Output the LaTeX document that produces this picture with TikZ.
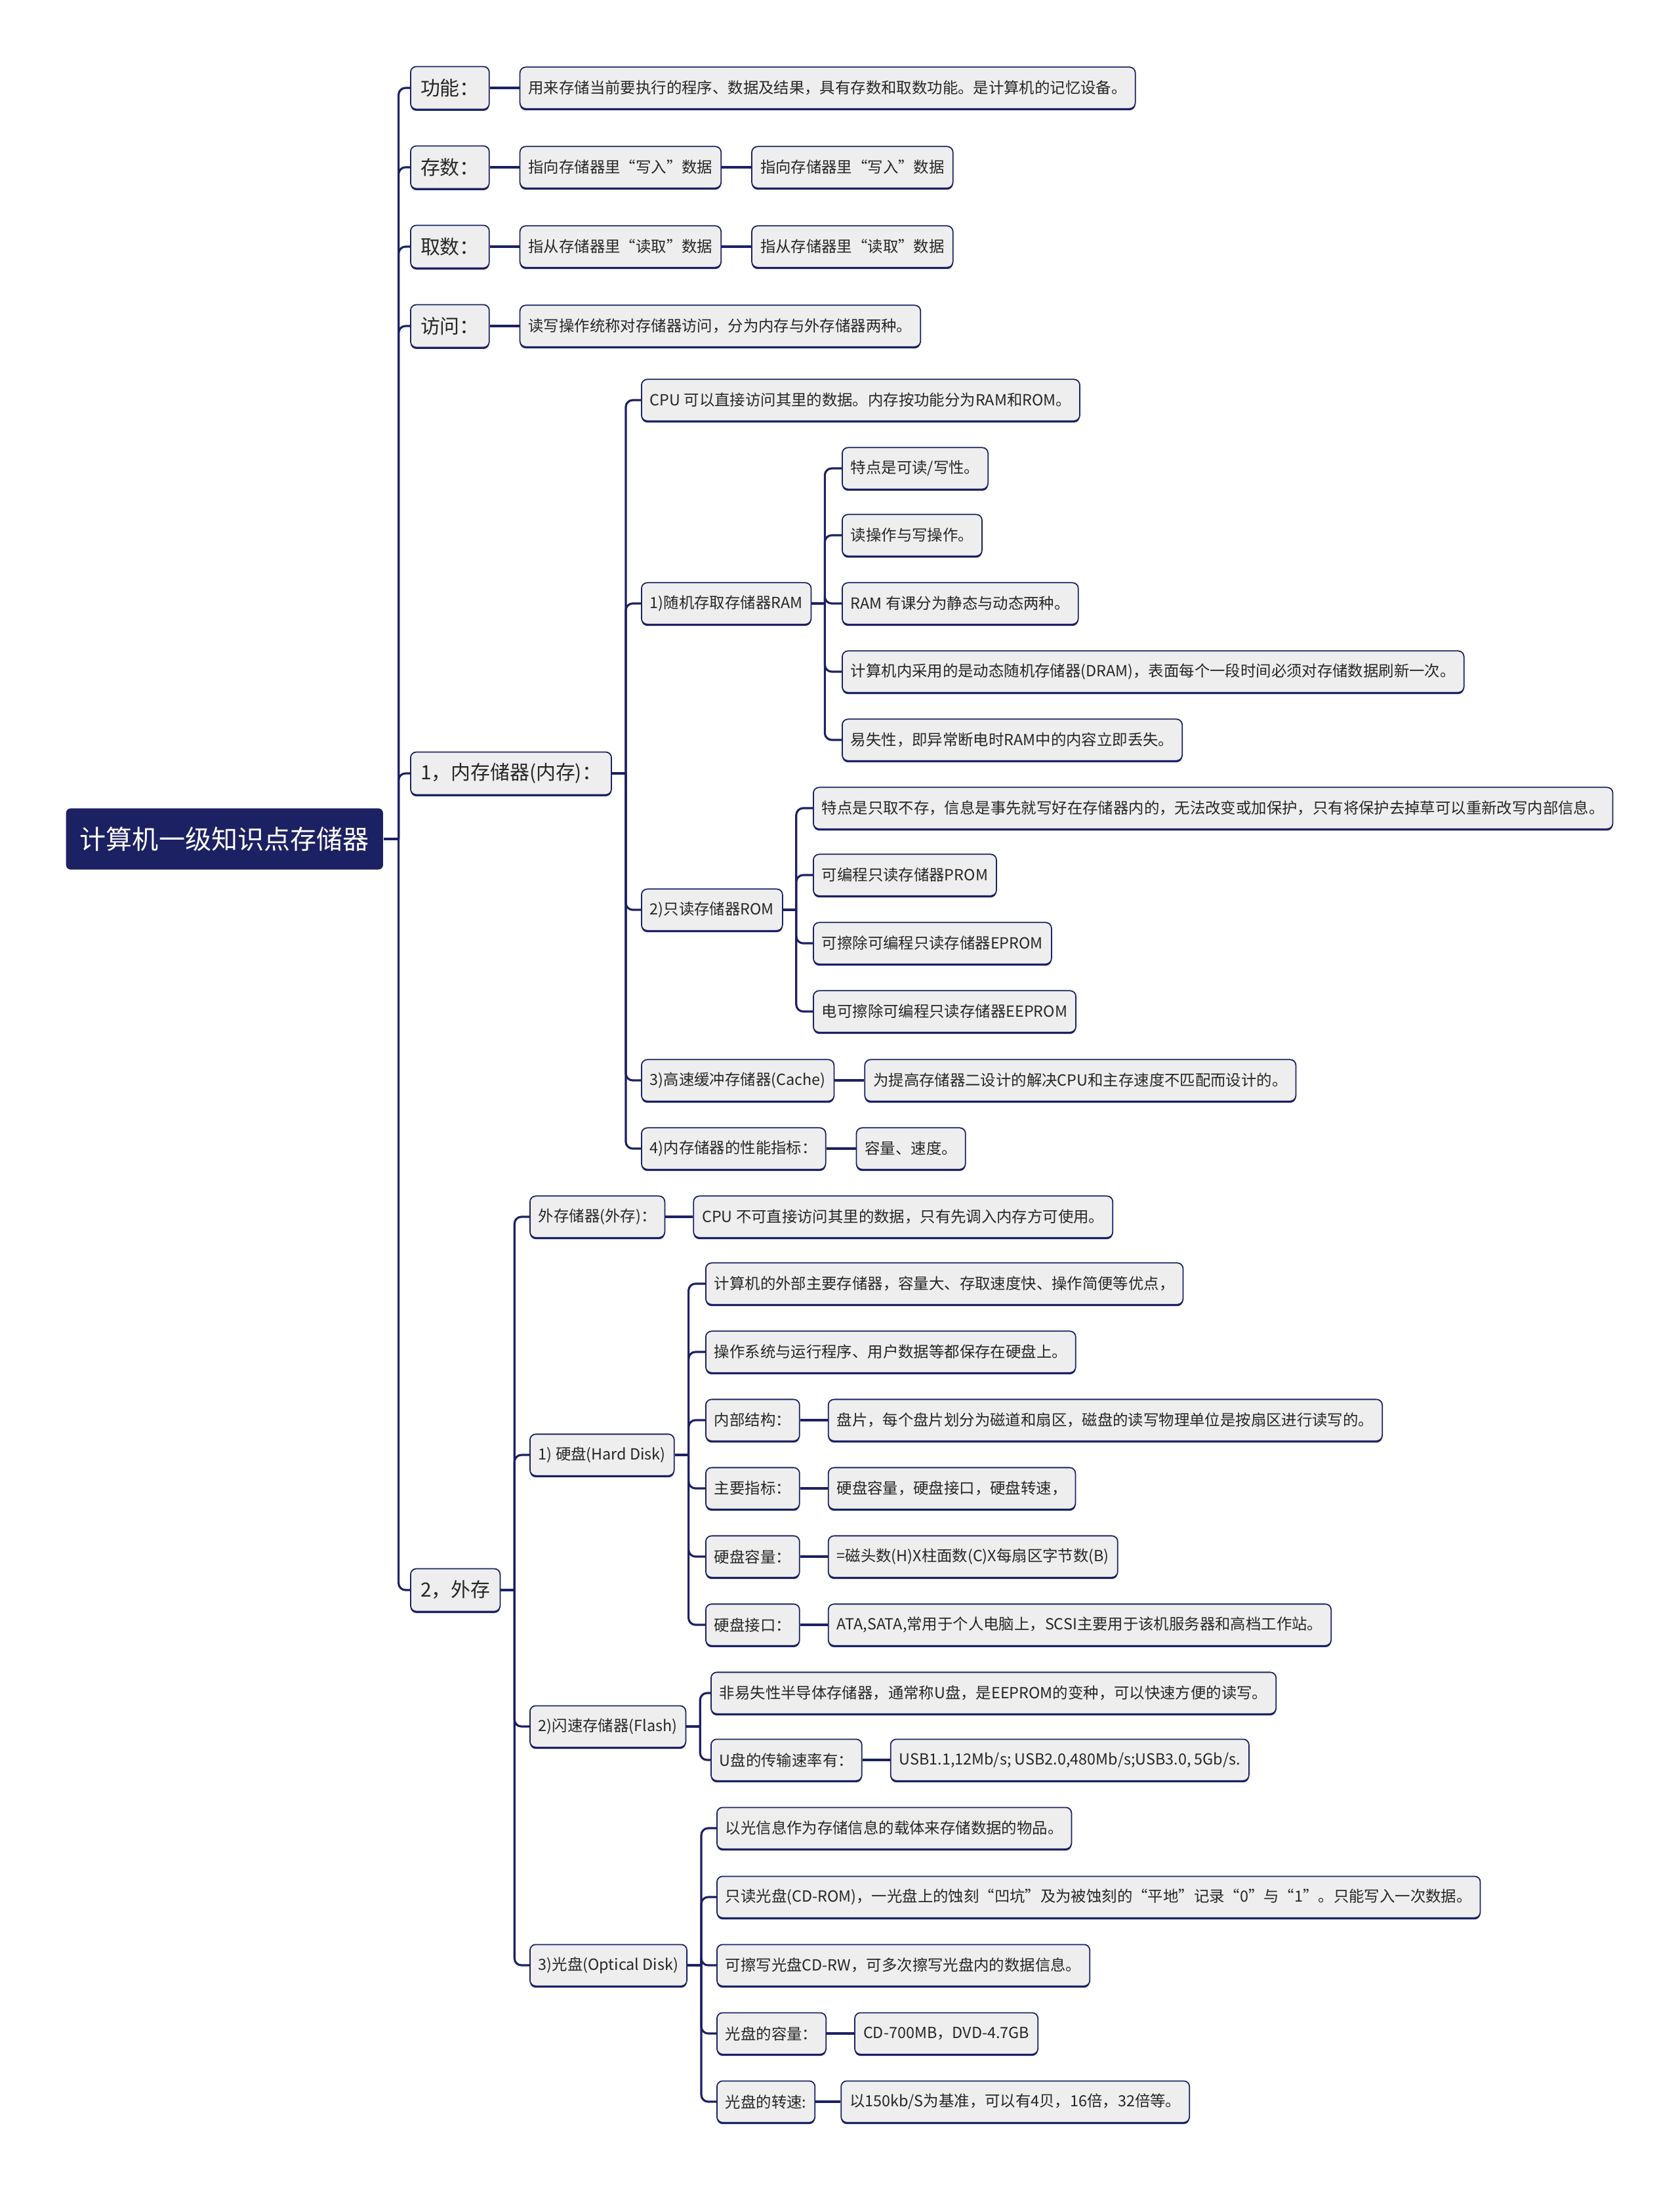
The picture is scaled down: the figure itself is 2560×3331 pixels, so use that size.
\documentclass[tikz,border=0pt]{standalone}
\usepackage{fontspec}
\setmainfont{Noto Sans CJK SC}
\usetikzlibrary{positioning,shadows}

\definecolor{navy}{HTML}{1C2163}
\definecolor{boxfill}{HTML}{EEEEEE}

\tikzset{
  box/.style={draw=navy,fill=boxfill,line width=0.5pt,rounded corners=2.5pt,
    anchor=west,text=black!85,inner ysep=0pt,
    drop shadow={shadow xshift=0pt,shadow yshift=-0.7pt,fill=navy,opacity=1}},
  leaf/.style={box,font=\fontsize{6.65}{8}\selectfont,inner xsep=3.7pt,minimum height=18pt},
  topic/.style={box,font=\fontsize{8.5}{10}\selectfont,inner xsep=4.3pt,minimum height=18.5pt},
  rootbox/.style={fill=navy,rounded corners=2pt,anchor=west,text=white,
    font=\fontsize{11.4}{13}\selectfont,inner xsep=6pt,minimum height=26.5pt},
  link/.style={draw=navy,line width=0.9pt,rounded corners=3pt},
}

\begin{document}
\begin{tikzpicture}[x=0.01cm,y=-0.01cm]
  \useasboundingbox (0,0) rectangle (2560,3331);

  % centre
  \node[rootbox] (root) at (100,1279) {计算机一级知识点存储器};

  % first level
  \node[topic] (gongneng) at (625,134) {功能：};
  \node[topic] (cunshu) at (625,255) {存数：};
  \node[topic] (qushu) at (625,376) {取数：};
  \node[topic] (fangwen) at (625,497) {访问：};
  \node[topic] (neicun) at (625,1179) {1，内存储器(内存)：};
  \node[topic] (waicun) at (625,2424) {2，外存};

  \draw[link] (root.east) -- ++(23,0) coordinate (rootbus);
  \foreach \n in {gongneng,cunshu,qushu,fangwen,neicun,waicun}
    \draw[link] (rootbus) |- (\n.west);

  % short chains
  \node[leaf,right=0.45cm of gongneng] (gongnengA) {用来存储当前要执行的程序、数据及结果，具有存数和取数功能。是计算机的记忆设备。};
  \node[leaf,right=0.45cm of cunshu] (cunshuA) {指向存储器里“写入”数据};
  \node[leaf,right=0.45cm of cunshuA] (cunshuB) {指向存储器里“写入”数据};
  \node[leaf,right=0.45cm of qushu] (qushuA) {指从存储器里“读取”数据};
  \node[leaf,right=0.45cm of qushuA] (qushuB) {指从存储器里“读取”数据};
  \node[leaf,right=0.45cm of fangwen] (fangwenA) {读写操作统称对存储器访问，分为内存与外存储器两种。};
  \draw[link] (gongneng) -- (gongnengA);
  \draw[link] (cunshu) -- (cunshuA);
  \draw[link] (cunshuA) -- (cunshuB);
  \draw[link] (qushu) -- (qushuA);
  \draw[link] (qushuA) -- (qushuB);
  \draw[link] (fangwen) -- (fangwenA);

  % inner memory
  \node[leaf] (cpu) at (977,610) {CPU 可以直接访问其里的数据。内存按功能分为RAM和ROM。};
  \node[leaf] (ram) at (977,920) {1)随机存取存储器RAM};
  \node[leaf] (rom) at (977,1387) {2)只读存储器ROM};
  \node[leaf] (cache) at (977,1647) {3)高速缓冲存储器(Cache)};
  \node[leaf] (xingneng) at (977,1751) {4)内存储器的性能指标：};
  \draw[link] (neicun.east) -- ++(21,0) coordinate (neicunbus);
  \foreach \n in {cpu,ram,rom,cache,xingneng}
    \draw[link] (neicunbus) |- (\n.west);

  \node[leaf] (ramA) at (1283,714) {特点是可读/写性。};
  \node[leaf] (ramB) at (1283,816) {读操作与写操作。};
  \node[leaf] (ramC) at (1283,920) {RAM 有课分为静态与动态两种。};
  \node[leaf] (ramD) at (1283,1024) {计算机内采用的是动态随机存储器(DRAM)，表面每个一段时间必须对存储数据刷新一次。};
  \node[leaf] (ramE) at (1283,1128) {易失性，即异常断电时RAM中的内容立即丢失。};
  \draw[link] (ram.east) -- ++(20,0) coordinate (rambus);
  \foreach \n in {ramA,ramB,ramC,ramD,ramE}
    \draw[link] (rambus) |- (\n.west);

  \node[leaf] (romA) at (1239,1232) {特点是只取不存，信息是事先就写好在存储器内的，无法改变或加保护，只有将保护去掉草可以重新改写内部信息。};
  \node[leaf] (romB) at (1239,1334) {可编程只读存储器PROM};
  \node[leaf] (romC) at (1239,1438) {可擦除可编程只读存储器EPROM};
  \node[leaf] (romD) at (1239,1542) {电可擦除可编程只读存储器EEPROM};
  \draw[link] (rom.east) -- ++(20,0) coordinate (rombus);
  \foreach \n in {romA,romB,romC,romD}
    \draw[link] (rombus) |- (\n.west);

  \node[leaf,right=0.45cm of cache] (cacheA) {为提高存储器二设计的解决CPU和主存速度不匹配而设计的。};
  \node[leaf,right=0.45cm of xingneng] (xingnengA) {容量、速度。};
  \draw[link] (cache) -- (cacheA);
  \draw[link] (xingneng) -- (xingnengA);

  % outer memory
  \node[leaf] (waiqi) at (807,1855) {外存储器(外存)：};
  \node[leaf] (yingpan) at (807,2218) {1) 硬盘(Hard Disk)};
  \node[leaf] (shancun) at (807,2632) {2)闪速存储器(Flash)};
  \node[leaf] (guangpan) at (807,2996) {3)光盘(Optical Disk)};
  \draw[link] (waicun.east) -- ++(21,0) coordinate (waicunbus);
  \foreach \n in {waiqi,yingpan,shancun,guangpan}
    \draw[link] (waicunbus) |- (\n.west);

  \node[leaf,right=0.42cm of waiqi] (waiqiA) {CPU 不可直接访问其里的数据，只有先调入内存方可使用。};
  \draw[link] (waiqi) -- (waiqiA);

  \node[leaf] (ypA) at (1075,1957) {计算机的外部主要存储器，容量大、存取速度快、操作简便等优点，};
  \node[leaf] (ypB) at (1075,2061) {操作系统与运行程序、用户数据等都保存在硬盘上。};
  \node[leaf] (jiegou) at (1075,2165) {内部结构：};
  \node[leaf] (zhibiao) at (1075,2269) {主要指标：};
  \node[leaf] (rongliang) at (1075,2373) {硬盘容量：};
  \node[leaf] (jiekou) at (1075,2477) {硬盘接口：};
  \draw[link] (yingpan.east) -- ++(21,0) coordinate (yingpanbus);
  \foreach \n in {ypA,ypB,jiegou,zhibiao,rongliang,jiekou}
    \draw[link] (yingpanbus) |- (\n.west);

  \node[leaf,right=0.42cm of jiegou] (jiegouA) {盘片，每个盘片划分为磁道和扇区，磁盘的读写物理单位是按扇区进行读写的。};
  \node[leaf,right=0.42cm of zhibiao] (zhibiaoA) {硬盘容量，硬盘接口，硬盘转速，};
  \node[leaf,right=0.42cm of rongliang] (rongliangA) {=磁头数(H)X柱面数(C)X每扇区字节数(B)};
  \node[leaf,right=0.42cm of jiekou] (jiekouA) {ATA,SATA,常用于个人电脑上，SCSI主要用于该机服务器和高档工作站。};
  \draw[link] (jiegou) -- (jiegouA);
  \draw[link] (zhibiao) -- (zhibiaoA);
  \draw[link] (rongliang) -- (rongliangA);
  \draw[link] (jiekou) -- (jiekouA);

  \node[leaf] (scA) at (1083,2581) {非易失性半导体存储器，通常称U盘，是EEPROM的变种，可以快速方便的读写。};
  \node[leaf] (sulv) at (1083,2683) {U盘的传输速率有：};
  \draw[link] (shancun.east) -- ++(21,0) coordinate (shancunbus);
  \foreach \n in {scA,sulv}
    \draw[link] (shancunbus) |- (\n.west);
  \node[leaf,right=0.42cm of sulv] (sulvA) {USB1.1,12Mb/s; USB2.0,480Mb/s;USB3.0, 5Gb/s.};
  \draw[link] (sulv) -- (sulvA);

  \node[leaf] (gpA) at (1092,2787) {以光信息作为存储信息的载体来存储数据的物品。};
  \node[leaf] (gpB) at (1092,2892) {只读光盘(CD-ROM)，一光盘上的蚀刻“凹坑”及为被蚀刻的“平地”记录“0”与“1”。只能写入一次数据。};
  \node[leaf] (gpC) at (1092,2996) {可擦写光盘CD-RW，可多次擦写光盘内的数据信息。};
  \node[leaf] (gprl) at (1092,3100) {光盘的容量：};
  \node[leaf] (gpzs) at (1092,3204) {光盘的转速:};
  \draw[link] (guangpan.east) -- ++(21,0) coordinate (guangpanbus);
  \foreach \n in {gpA,gpB,gpC,gprl,gpzs}
    \draw[link] (guangpanbus) |- (\n.west);
  \node[leaf,right=0.42cm of gprl] (gprlA) {CD-700MB，DVD-4.7GB};
  \node[leaf,right=0.38cm of gpzs] (gpzsA) {以150kb/S为基准，可以有4贝，16倍，32倍等。};
  \draw[link] (gprl) -- (gprlA);
  \draw[link] (gpzs) -- (gpzsA);
\end{tikzpicture}
\end{document}
